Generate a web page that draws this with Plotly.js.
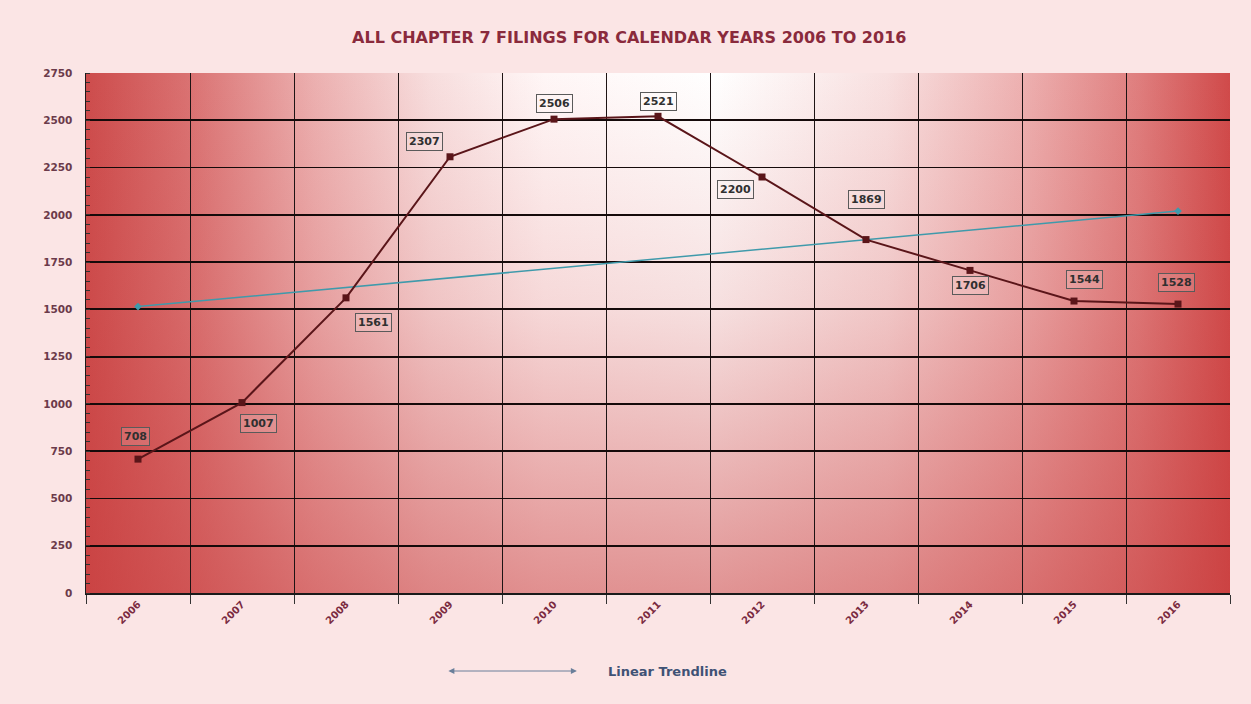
<!DOCTYPE html>
<html>
<head>
<meta charset="utf-8">
<script src="https://cdn.plot.ly/plotly-3.0.1.min.js"></script>
<style>html,body{margin:0;padding:0;background:#fbe5e5;}#chart{width:1251px;height:704px;}</style>
</head>
<body>
<div id="chart"></div>
<script>
// ---- data ----
const years = ["2006","2007","2008","2009","2010","2011","2012","2013","2014","2015","2016"];
const filings = [708, 1007, 1561, 2307, 2506, 2521, 2200, 1869, 1706, 1544, 1528];
const trendYears = ["2006","2016"];
const trendValues = [1515, 2020];
const yTicks = [0,250,500,750,1000,1250,1500,1750,2000,2250,2500,2750];
// label offsets (pixels) for the value boxes
const labelShiftX = [-3, 16, 27, -26, 0, 0, -27, 0, 0, 10, -2];
const labelShiftY = [23, -21, -25, 15, 16, 15, -12, 40, -15, 22, 22];

const xIdx = years.map((_, i) => i);
const trendIdx = trendYears.map(y => years.indexOf(y));

const FONT = 'DejaVu Sans, Verdana, sans-serif';

const svg = '<svg xmlns="http://www.w3.org/2000/svg" width="100" height="100" viewBox="0 0 100 100" preserveAspectRatio="none">' +
  '<defs>' +
  '<linearGradient id="h" x1="0" y1="0" x2="1" y2="0">' +
  '<stop offset="0" stop-color="#cd4c4c"/>' +
  '<stop offset="0.09" stop-color="#da7272"/>' +
  '<stop offset="0.2" stop-color="#ecb0b0"/>' +
  '<stop offset="0.3" stop-color="#f7dddd"/>' +
  '<stop offset="0.4" stop-color="#fff6f6"/>' +
  '<stop offset="0.55" stop-color="#ffffff"/>' +
  '<stop offset="0.7" stop-color="#f8e0e0"/>' +
  '<stop offset="0.82" stop-color="#edb0b0"/>' +
  '<stop offset="0.92" stop-color="#df7e7e"/>' +
  '<stop offset="1" stop-color="#d04a4a"/>' +
  '</linearGradient>' +
  '<linearGradient id="v" x1="0" y1="0" x2="0" y2="1">' +
  '<stop offset="0" stop-color="#c83c3c" stop-opacity="0"/>' +
  '<stop offset="0.45" stop-color="#c83c3c" stop-opacity="0.16"/>' +
  '<stop offset="1" stop-color="#c83c3c" stop-opacity="0.55"/>' +
  '</linearGradient></defs>' +
  '<rect x="0" y="0" width="100" height="100" fill="url(#h)"/>' +
  '<rect x="0" y="0" width="100" height="100" fill="url(#v)"/></svg>';
const bgUri = 'data:image/svg+xml;charset=utf-8,' + encodeURIComponent(svg);

const traces = [
  {
    x: trendIdx, y: trendValues, type: 'scatter', mode: 'lines+markers',
    line: {color: '#3f9aab', width: 1.5},
    marker: {symbol: 'diamond', size: 6, color: '#3f9aab'},
    hoverinfo: 'skip', showlegend: false
  },
  {
    x: xIdx, y: filings, type: 'scatter', mode: 'lines+markers',
    line: {color: '#5a1519', width: 2},
    marker: {symbol: 'square', size: 7, color: '#5a1519'},
    showlegend: false
  }
];

const annotations = filings.map((v, i) => ({
  x: i, y: v, xref: 'x', yref: 'y', text: String(v), showarrow: false,
  xshift: labelShiftX[i], yshift: labelShiftY[i],
  font: {family: FONT, size: 11, color: '#303030', weight: 'bold'},
  bordercolor: '#5a5a5a', borderwidth: 1, borderpad: 2, bgcolor: 'rgba(255,255,255,0.15)'
}));

// legend drawn as a double-headed arrow + text
annotations.push({
  xref: 'x', yref: 'paper', x: 4.22, y: -0.15, axref: 'x', ayref: 'pixel', ax: 2.97, ay: 0,
  text: '', showarrow: true, arrowside: 'end+start', arrowhead: 2, arrowsize: 1.2,
  arrowwidth: 1, arrowcolor: '#6a7f9a'
});
annotations.push({
  xref: 'paper', yref: 'paper', x: 0.4545, y: -0.15, xanchor: 'left', yanchor: 'middle',
  text: 'Linear Trendline', showarrow: false,
  font: {family: FONT, size: 13, color: '#3f5275', weight: 'bold'}
});

const layout = {
  width: 1251, height: 704,
  margin: {l: 86, r: 21, t: 73, b: 111},
  paper_bgcolor: '#fbe5e5',
  plot_bgcolor: 'rgba(0,0,0,0)',
  title: {
    text: 'ALL CHAPTER 7 FILINGS FOR CALENDAR YEARS 2006 TO 2016',
    x: 0.503, xanchor: 'center', y: 0.947, yanchor: 'middle',
    font: {family: FONT, size: 16, color: '#8a2a3c', weight: 'bold'}
  },
  images: [{
    source: bgUri, xref: 'paper', yref: 'paper', x: 0, y: 1, sizex: 1, sizey: 1,
    xanchor: 'left', yanchor: 'top', sizing: 'stretch', layer: 'below'
  }],
  xaxis: {
    range: [-0.5, 10.5], tickmode: 'array', tickvals: xIdx, ticktext: years,
    tickangle: -45, ticks: '', showgrid: false, zeroline: false,
    showline: true, linecolor: '#1a1a1a', linewidth: 1.5,
    tickfont: {family: FONT, size: 10, color: '#7a2a40', weight: 'bold'},
    minor: {tickmode: 'linear', tick0: 0.5, dtick: 1, showgrid: true, gridcolor: '#1e1414', gridwidth: 1,
            ticks: 'outside', ticklen: 9, tickcolor: '#333333', tickwidth: 1},
    fixedrange: true
  },
  yaxis: {
    range: [0, 2750], tickmode: 'array', tickvals: yTicks,
    showgrid: true, gridcolor: '#150a0a', gridwidth: 1.8, zeroline: false,
    showline: true, linecolor: '#1a1a1a', linewidth: 1.5,
    ticks: '', ticklabelstandoff: 10,
    tickfont: {family: FONT, size: 10.5, color: '#6b3a4a', weight: 'bold'},
    minor: {tickmode: 'linear', tick0: 0, dtick: 50, ticks: 'inside', ticklen: 4, tickcolor: '#333333', tickwidth: 1, showgrid: false},
    fixedrange: true
  },
  annotations: annotations,
  showlegend: false
};

Plotly.newPlot('chart', traces, layout, {displayModeBar: false, staticPlot: true});
</script>
</body>
</html>
